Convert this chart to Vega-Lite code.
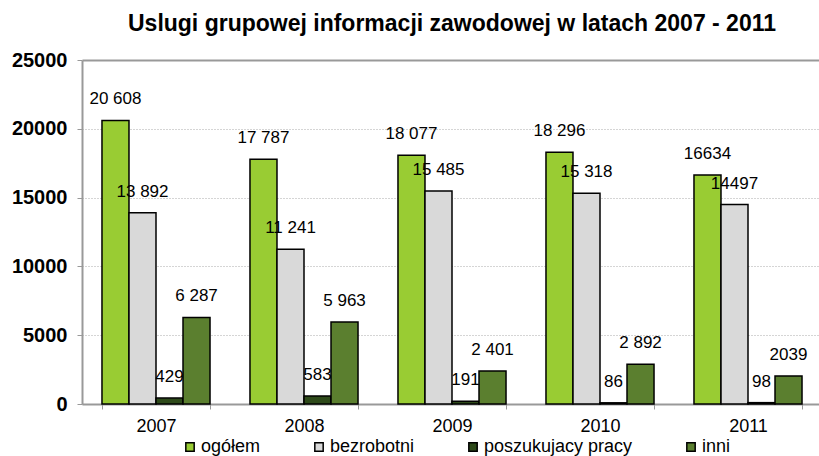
{
  "$schema": "https://vega.github.io/schema/vega-lite/v6.json",
  "autosize": {"type": "none"},
  "padding": {"left": 82, "top": 60, "right": 0, "bottom": 52},
  "width": 740,
  "height": 344,
  "background": "white",
  "config": {
    "font": "Liberation Sans",
    "view": {"stroke": null}
  },
  "title": {
    "text": "Uslugi grupowej informacji zawodowej w latach 2007 - 2011",
    "fontSize": 23,
    "fontWeight": "bold",
    "color": "black",
    "anchor": "middle",
    "frame": "group",
    "baseline": "alphabetic",
    "offset": -4
  },
  "data": {
    "values": [
      {"year": "2007", "series": "ogółem", "value": 20608, "label": "20 608"},
      {"year": "2007", "series": "bezrobotni", "value": 13892, "label": "13 892"},
      {"year": "2007", "series": "poszukujacy pracy", "value": 429, "label": "429"},
      {"year": "2007", "series": "inni", "value": 6287, "label": "6 287"},
      {"year": "2008", "series": "ogółem", "value": 17787, "label": "17 787"},
      {"year": "2008", "series": "bezrobotni", "value": 11241, "label": "11 241"},
      {"year": "2008", "series": "poszukujacy pracy", "value": 583, "label": "583"},
      {"year": "2008", "series": "inni", "value": 5963, "label": "5 963"},
      {"year": "2009", "series": "ogółem", "value": 18077, "label": "18 077"},
      {"year": "2009", "series": "bezrobotni", "value": 15485, "label": "15 485"},
      {"year": "2009", "series": "poszukujacy pracy", "value": 191, "label": "191"},
      {"year": "2009", "series": "inni", "value": 2401, "label": "2 401"},
      {"year": "2010", "series": "ogółem", "value": 18296, "label": "18 296"},
      {"year": "2010", "series": "bezrobotni", "value": 15318, "label": "15 318"},
      {"year": "2010", "series": "poszukujacy pracy", "value": 86, "label": "86"},
      {"year": "2010", "series": "inni", "value": 2892, "label": "2 892"},
      {"year": "2011", "series": "ogółem", "value": 16634, "label": "16634"},
      {"year": "2011", "series": "bezrobotni", "value": 14497, "label": "14497"},
      {"year": "2011", "series": "poszukujacy pracy", "value": 98, "label": "98"},
      {"year": "2011", "series": "inni", "value": 2039, "label": "2039"}
    ]
  },
  "encoding": {
    "x": {
      "field": "year",
      "type": "nominal",
      "title": null,
      "scale": {"paddingInner": 0.27, "paddingOuter": 0.135},
      "axis": {
        "labelAngle": 0,
        "labelFontSize": 18,
        "labelColor": "black",
        "labelPadding": 8,
        "tickBand": "extent",
        "tickSize": 5,
        "tickColor": "#999999",
        "tickWidth": 1,
        "domainColor": "#999999",
        "domainWidth": 2,
        "grid": false
      }
    },
    "xOffset": {
      "field": "series",
      "type": "nominal",
      "sort": ["ogółem", "bezrobotni", "poszukujacy pracy", "inni"]
    },
    "y": {
      "field": "value",
      "type": "quantitative",
      "title": null,
      "scale": {"domain": [0, 25000], "nice": false},
      "axis": {
        "values": [0, 5000, 10000, 15000, 20000, 25000],
        "format": "d",
        "labelFontSize": 20,
        "labelFontWeight": "bold",
        "labelColor": "black",
        "labelPadding": 10,
        "tickSize": 5,
        "tickColor": "#999999",
        "domainColor": "#999999",
        "domainWidth": 2,
        "grid": true,
        "gridColor": {"condition": {"test": "datum.value === 25000", "value": "#999999"}, "value": "#aaaaaa"},
        "gridWidth": {"condition": {"test": "datum.value === 25000", "value": 2}, "value": 1},
        "gridDash": {"condition": {"test": "datum.value === 25000", "value": []}, "value": [1, 2]}
      }
    }
  },
  "layer": [
    {
      "mark": {"type": "bar", "stroke": "black", "strokeWidth": 1.5},
      "encoding": {
        "color": {
          "field": "series",
          "type": "nominal",
          "sort": ["ogółem", "bezrobotni", "poszukujacy pracy", "inni"],
          "scale": {
            "domain": ["ogółem", "bezrobotni", "poszukujacy pracy", "inni"],
            "range": ["#99CC33", "#D9D9D9", "#2E4A1A", "#5B7F2F"]
          },
          "legend": {
            "orient": "none",
            "direction": "horizontal",
            "legendX": 99,
            "legendY": 378,
            "title": null,
            "padding": 0,
            "labelFontSize": 18,
            "labelColor": "black",
            "labelOffset": 2,
            "columnPadding": 49,
            "symbolType": "square",
            "symbolSize": 70,
            "symbolStrokeColor": "black",
            "symbolStrokeWidth": 1.5,
            "symbolOpacity": 1
          }
        }
      }
    },
    {
      "mark": {"type": "text", "fontSize": 17, "color": "black", "baseline": "middle", "dy": -21},
      "encoding": {
        "text": {"field": "label", "type": "nominal"}
      }
    }
  ]
}
